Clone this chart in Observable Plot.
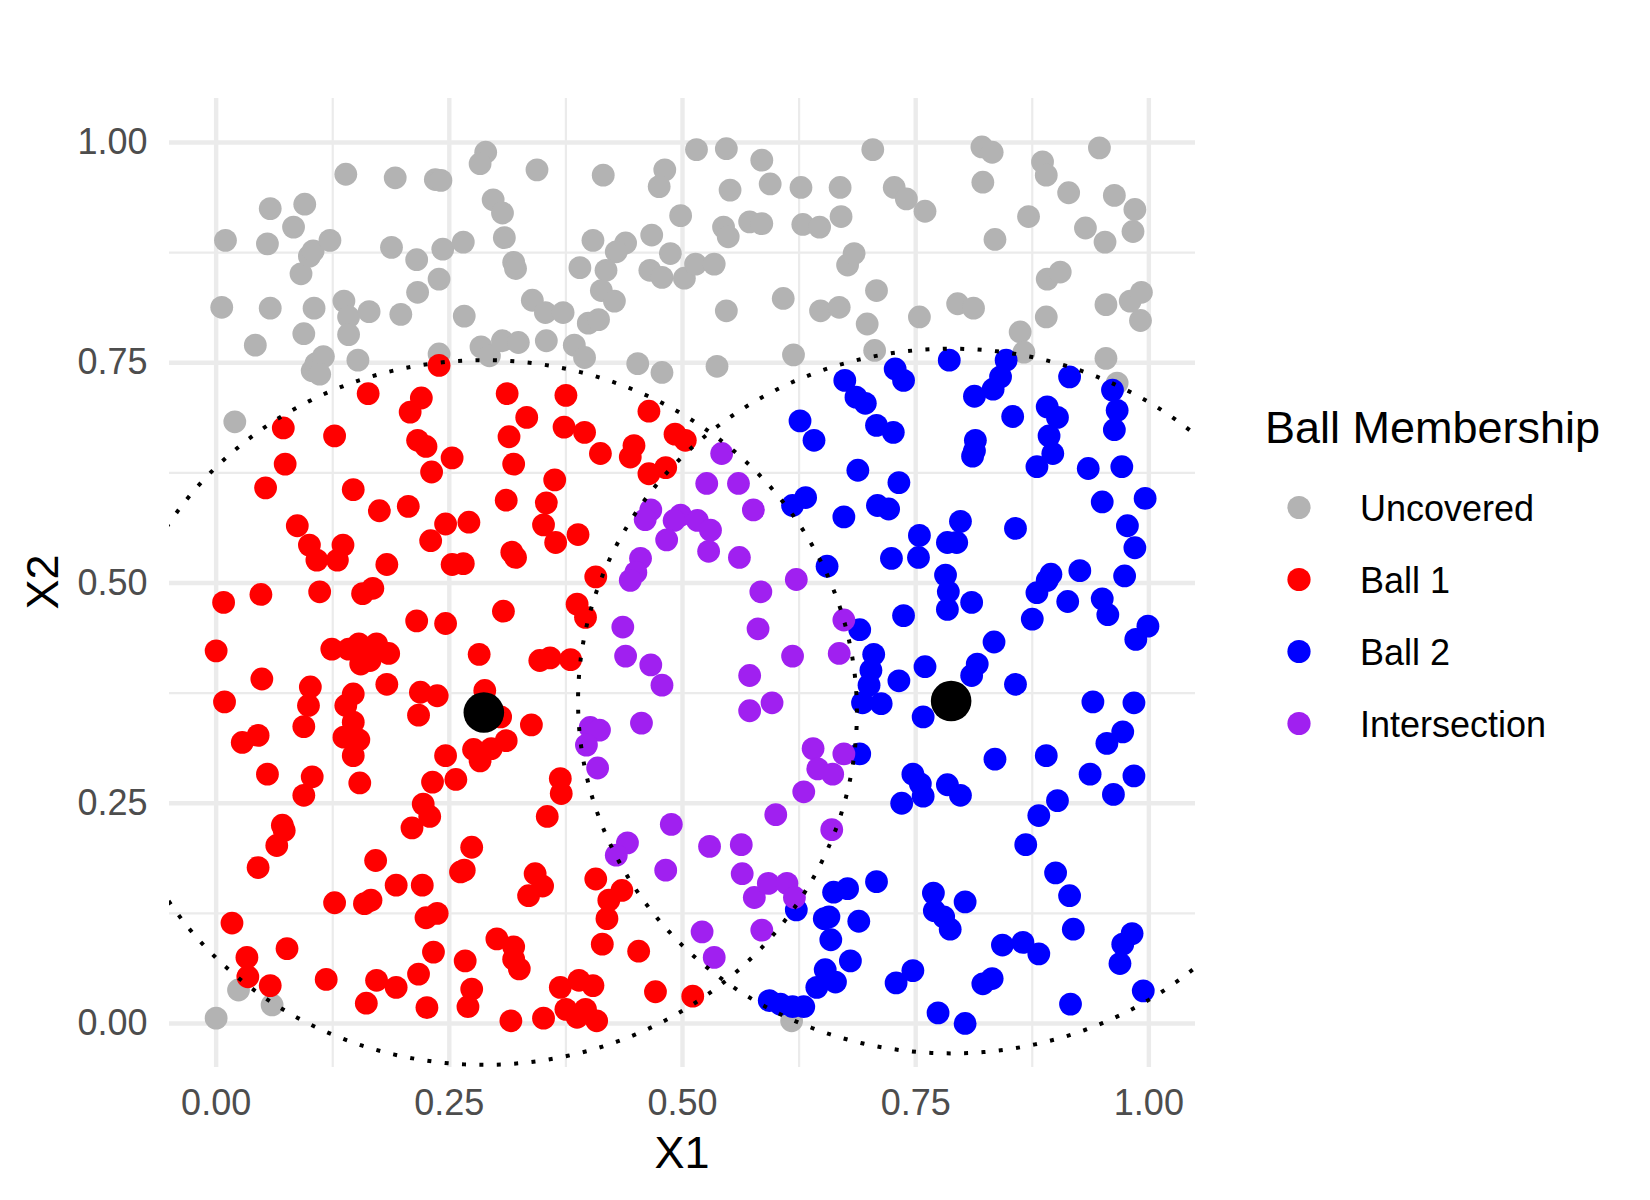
<!DOCTYPE html>
<html><head><meta charset="utf-8">
<script src="https://cdn.jsdelivr.net/npm/d3@7"></script>
<script src="https://cdn.jsdelivr.net/npm/@observablehq/plot@0.6"></script>
<style>body{margin:0;background:#fff;} svg{display:block;}</style>
</head><body><div id="chart"></div>
<script>
const categories = ["Uncovered", "Ball 1", "Ball 2", "Intersection"];
const colors = ["#B3B3B3", "#FF0000", "#0000FF", "#A020F0"];
const legendTitle = "Ball Membership";
const xTitle = "X1";
const yTitle = "X2";
const majorTicks = [0, 0.25, 0.5, 0.75, 1];
const minorTicks = [0.125, 0.375, 0.625, 0.875];
const tickLabels = ["0.00", "0.25", "0.50", "0.75", "1.00"];
const centers = [[0.287, 0.353], [0.788, 0.366]];
const radius = 0.4;

const uncovered = [
[0.010,0.889],[0.006,0.813],[0.020,0.683],[0.042,0.770],[0.058,0.925],[0.055,0.885],[0.058,0.812],[0.083,0.904],[0.095,0.930],[0.091,0.851],[0.100,0.871],[0.104,0.877],[0.122,0.889],[0.105,0.812],[0.094,0.783],[0.103,0.741],[0.107,0.749],[0.115,0.757],[0.111,0.737],[0.139,0.964],[0.137,0.820],[0.142,0.802],[0.142,0.782],[0.152,0.753],[0.164,0.808],[0.192,0.960],[0.188,0.881],[0.198,0.805],[0.215,0.867],[0.216,0.830],[0.235,0.958],[0.241,0.957],[0.243,0.879],[0.239,0.845],[0.239,0.760],[0.266,0.803],[0.265,0.887],[0.289,0.989],[0.283,0.976],[0.297,0.935],[0.307,0.920],[0.309,0.892],[0.319,0.864],[0.321,0.857],[0.284,0.768],[0.293,0.758],[0.307,0.775],[0.324,0.773],
[0.344,0.969],[0.415,0.963],[0.481,0.969],[0.475,0.950],[0.515,0.992],[0.547,0.993],[0.585,0.980],[0.551,0.946],[0.594,0.953],[0.627,0.949],[0.669,0.949],[0.498,0.917],[0.544,0.904],[0.549,0.893],[0.572,0.910],[0.585,0.908],[0.629,0.907],[0.647,0.904],[0.670,0.916],[0.677,0.861],[0.684,0.874],[0.404,0.889],[0.439,0.886],[0.429,0.876],[0.467,0.895],[0.487,0.874],[0.390,0.858],[0.418,0.855],[0.465,0.855],[0.478,0.847],[0.502,0.846],[0.514,0.862],[0.534,0.862],[0.413,0.832],[0.427,0.820],[0.339,0.821],[0.353,0.807],[0.372,0.807],[0.399,0.795],[0.410,0.799],[0.354,0.775],[0.384,0.770],[0.395,0.756],[0.452,0.749],[0.478,0.739],[0.537,0.746],[0.547,0.809],[0.608,0.823],[0.648,0.809],[0.668,0.813],[0.619,0.759],
[0.698,0.794],[0.704,0.992],[0.821,0.995],[0.832,0.989],[0.947,0.994],[0.886,0.978],[0.890,0.963],[0.822,0.955],[0.727,0.949],[0.740,0.936],[0.760,0.922],[0.914,0.943],[0.963,0.940],[0.985,0.924],[0.871,0.916],[0.932,0.903],[0.953,0.887],[0.983,0.899],[0.835,0.890],[0.891,0.845],[0.905,0.853],[0.708,0.832],[0.795,0.817],[0.812,0.812],[0.754,0.802],[0.890,0.802],[0.954,0.816],[0.980,0.820],[0.992,0.830],[0.991,0.798],[0.862,0.785],[0.706,0.764],[0.866,0.762],[0.954,0.755],[0.966,0.727],
[0.024,0.038],[0.060,0.021],[0.000,0.006],[0.617,0.003]
];

const ball1 = [
[0.239,0.747],[0.163,0.715],[0.220,0.710],[0.208,0.694],[0.072,0.676],[0.127,0.667],[0.312,0.715],
[0.216,0.662],[0.225,0.655],[0.253,0.642],[0.314,0.666],[0.319,0.635],[0.074,0.635],[0.231,0.626],[0.053,0.608],[0.147,0.606],[0.175,0.582],[0.206,0.587],[0.311,0.594],[0.087,0.565],[0.246,0.567],[0.271,0.569],[0.230,0.548],[0.100,0.543],[0.108,0.526],[0.136,0.543],[0.130,0.526],[0.183,0.521],[0.253,0.521],[0.265,0.522],[0.317,0.535],[0.321,0.529],[0.008,0.478],[0.048,0.487],[0.111,0.490],[0.157,0.488],[0.168,0.494],[0.308,0.468],[0.215,0.457],[0.246,0.454],[0.000,0.423],[0.124,0.425],[0.142,0.425],[0.153,0.431],[0.172,0.431],[0.185,0.420],[0.155,0.408],[0.165,0.412],[0.282,0.419],[0.049,0.391],[0.009,0.365],[0.101,0.382],[0.099,0.361],[0.094,0.337],[0.147,0.374],[0.139,0.361],[0.147,0.342],[0.137,0.325],[0.153,0.322],[0.147,0.304],[0.183,0.385],[0.219,0.376],[0.237,0.372],[0.217,0.350],[0.288,0.378],[0.305,0.348],[0.045,0.327],[0.028,0.319],[0.276,0.311],[0.295,0.312],[0.311,0.321],[0.246,0.304],
[0.333,0.688],[0.375,0.713],[0.373,0.677],[0.395,0.671],[0.464,0.695],[0.492,0.669],[0.503,0.662],[0.448,0.656],
[0.412,0.647],[0.444,0.643],[0.464,0.624],[0.482,0.631],[0.363,0.617],[0.354,0.591],[0.351,0.566],[0.364,0.546],[0.388,0.555],[0.407,0.507],[0.387,0.476],[0.396,0.461],[0.347,0.412],[0.358,0.415],[0.380,0.413],[0.338,0.339],
[0.055,0.283],[0.103,0.280],[0.094,0.259],[0.154,0.273],[0.283,0.298],[0.257,0.277],[0.232,0.274],[0.222,0.249],[0.229,0.235],[0.210,0.222],[0.071,0.225],[0.073,0.219],[0.065,0.202],[0.045,0.177],[0.171,0.185],[0.274,0.200],[0.262,0.172],[0.266,0.174],[0.193,0.157],[0.221,0.157],[0.127,0.137],[0.159,0.136],[0.166,0.140],[0.225,0.120],[0.237,0.125],[0.017,0.114],[0.033,0.075],[0.034,0.053],[0.076,0.085],[0.058,0.043],[0.118,0.050],[0.233,0.081],[0.267,0.071],[0.301,0.096],[0.319,0.087],[0.319,0.073],[0.325,0.062],[0.172,0.049],[0.193,0.041],[0.217,0.056],[0.161,0.023],[0.226,0.018],[0.274,0.039],[0.270,0.019],[0.316,0.003],
[0.369,0.278],[0.370,0.261],[0.355,0.235],[0.342,0.170],[0.350,0.156],[0.335,0.145],[0.407,0.164],[0.435,0.151],[0.421,0.140],[0.419,0.119],[0.414,0.090],[0.453,0.082],[0.369,0.041],[0.389,0.049],[0.404,0.043],[0.375,0.016],[0.396,0.016],[0.387,0.007],[0.408,0.003],[0.351,0.006],[0.471,0.036],[0.511,0.031]
];

const ball2 = [
[0.626,0.684],[0.641,0.662],[0.674,0.730],[0.686,0.711],[0.696,0.704],[0.786,0.753],[0.847,0.753],[0.841,0.734],[0.833,0.720],[0.813,0.712],[0.728,0.743],[0.737,0.730],[0.915,0.734],[0.961,0.719],[0.966,0.696],[0.963,0.674],[0.891,0.700],[0.902,0.688],[0.854,0.689],[0.708,0.679],[0.726,0.671],[0.893,0.667],[0.814,0.662],
[0.813,0.650],[0.811,0.644],[0.897,0.647],[0.880,0.632],[0.935,0.630],[0.971,0.632],[0.688,0.628],[0.732,0.614],[0.709,0.588],[0.721,0.584],[0.673,0.575],[0.950,0.592],[0.996,0.596],[0.977,0.565],[0.985,0.540],[0.798,0.570],[0.857,0.562],[0.754,0.554],[0.784,0.546],[0.794,0.546],[0.724,0.528],[0.753,0.529],[0.895,0.510],[0.891,0.503],[0.880,0.489],[0.926,0.514],[0.974,0.508],[0.782,0.509],[0.785,0.490],[0.784,0.470],[0.810,0.478],[0.913,0.479],[0.950,0.482],[0.956,0.464],[0.737,0.463],[0.875,0.459],[0.690,0.447],[0.999,0.451],[0.986,0.436],[0.834,0.433],[0.705,0.419],[0.702,0.401],[0.700,0.384],[0.693,0.364],[0.713,0.363],[0.760,0.405],[0.816,0.408],[0.810,0.395],[0.732,0.389],[0.857,0.385],[0.758,0.348],[0.940,0.365],[0.984,0.364],[0.972,0.331],[0.955,0.318],[0.690,0.306],[0.835,0.300],[0.890,0.304],
[0.618,0.588],[0.632,0.597],[0.655,0.519],
[0.747,0.283],[0.755,0.272],[0.758,0.258],[0.735,0.250],[0.784,0.271],[0.798,0.259],[0.937,0.283],[0.984,0.281],[0.962,0.260],[0.902,0.253],[0.882,0.236],[0.868,0.203],[0.900,0.171],[0.915,0.145],[0.919,0.107],[0.708,0.161],[0.769,0.148],[0.770,0.128],[0.780,0.121],[0.787,0.107],[0.803,0.138],[0.843,0.089],[0.865,0.092],[0.882,0.079],[0.982,0.102],[0.972,0.090],[0.969,0.068],[0.994,0.037],[0.747,0.060],[0.729,0.046],[0.832,0.051],[0.822,0.045],[0.774,0.012],[0.803,0.000],[0.916,0.022],
[0.622,0.129],[0.662,0.149],[0.677,0.153],[0.652,0.119],[0.657,0.121],[0.659,0.095],[0.689,0.116],[0.680,0.071],[0.653,0.061],[0.664,0.047],[0.644,0.041],[0.593,0.026],[0.605,0.022],[0.618,0.019],[0.630,0.019]
];

const intersection = [
[0.542,0.647],[0.526,0.613],[0.560,0.613],[0.576,0.583],[0.466,0.583],[0.460,0.572],[0.498,0.577],[0.516,0.571],[0.530,0.560],[0.491,0.571],[0.483,0.549],[0.528,0.536],[0.561,0.529],[0.455,0.528],[0.450,0.512],[0.444,0.503],[0.622,0.504],[0.584,0.490],[0.581,0.448],[0.436,0.450],[0.439,0.417],[0.466,0.407],[0.478,0.384],[0.618,0.417],[0.668,0.420],[0.673,0.458],[0.572,0.395],[0.572,0.355],[0.596,0.364],[0.456,0.341],[0.401,0.336],[0.411,0.333],[0.397,0.316],[0.640,0.312],[0.673,0.306],
[0.409,0.290],[0.488,0.226],[0.441,0.205],[0.429,0.191],[0.482,0.174],[0.529,0.201],[0.563,0.203],[0.564,0.170],[0.600,0.237],[0.630,0.263],[0.660,0.220],[0.645,0.289],[0.661,0.283],[0.577,0.143],[0.592,0.159],[0.612,0.159],[0.620,0.143],[0.585,0.106],[0.521,0.104],[0.534,0.075]
];

const groups = [uncovered, ball1, ball2, intersection];
const points = groups.flatMap((arr, i) => arr.map(([x, y]) => ({x, y, group: categories[i]})));
// outline of each ball: center + radius
const outline = centers.flatMap(([cx, cy], i) =>
  d3.range(0, 361, 1).map(a => ({ball: i, x: cx + radius * Math.cos(a * Math.PI / 180), y: cy + radius * Math.sin(a * Math.PI / 180)})));

const font = "'Liberation Sans', Arial, Helvetica, sans-serif";
const fmt = d => tickLabels[majorTicks.indexOf(d)];

const chart = Plot.plot({
  width: 1650, height: 1200,
  marginLeft: 169, marginRight: 455, marginTop: 98, marginBottom: 133,
  style: {fontFamily: font, background: "white"},
  x: {domain: [-0.05, 1.05]},
  y: {domain: [-0.05, 1.05]},
  color: {domain: categories, range: colors},
  marks: [
    Plot.ruleX(minorTicks, {stroke: "#EBEBEB", strokeWidth: 2.2}),
    Plot.ruleY(minorTicks, {stroke: "#EBEBEB", strokeWidth: 2.2}),
    Plot.ruleX(majorTicks, {stroke: "#EBEBEB", strokeWidth: 4.4}),
    Plot.ruleY(majorTicks, {stroke: "#EBEBEB", strokeWidth: 4.4}),
    Plot.axisX(majorTicks, {tickSize: 0, tickPadding: 22, tickFormat: fmt, fontSize: 36, color: "#4D4D4D", label: null}),
    Plot.axisY(majorTicks, {tickSize: 0, tickPadding: 22, tickFormat: fmt, fontSize: 36, color: "#4D4D4D", label: null}),
    Plot.dot(points, {x: "x", y: "y", fill: "group", r: 11.4}),
    Plot.line(outline, {x: "x", y: "y", z: "ball", stroke: "black", strokeWidth: 4, strokeDasharray: "4,13.4", strokeLinecap: "butt", clip: true}),
    Plot.dot(centers, {x: d => d[0], y: d => d[1], fill: "black", r: 20.3})
  ]
});

const svg = d3.select(chart);
svg.append("text").attr("x", 682).attr("y", 1168).attr("text-anchor", "middle")
  .attr("font-family", font).attr("font-size", 45).attr("fill", "black").text(xTitle);
svg.append("text").attr("transform", "translate(58,582) rotate(-90)").attr("text-anchor", "middle")
  .attr("font-family", font).attr("font-size", 45).attr("fill", "black").text(yTitle);

const lg = svg.append("g").attr("font-family", font).attr("text-anchor", "start");
lg.append("text").attr("x", 1265).attr("y", 443).attr("text-anchor", "start").attr("font-size", 45).attr("fill", "black").text(legendTitle);
categories.forEach((c, i) => {
  const cy = 507.5 + i * 72;
  lg.append("circle").attr("cx", 1299).attr("cy", cy).attr("r", 11.6).attr("fill", colors[i]);
  lg.append("text").attr("x", 1360).attr("y", cy + 13).attr("text-anchor", "start").attr("font-size", 36).attr("fill", "black").text(c);
});

document.getElementById("chart").appendChild(chart);
</script>
</body></html>
